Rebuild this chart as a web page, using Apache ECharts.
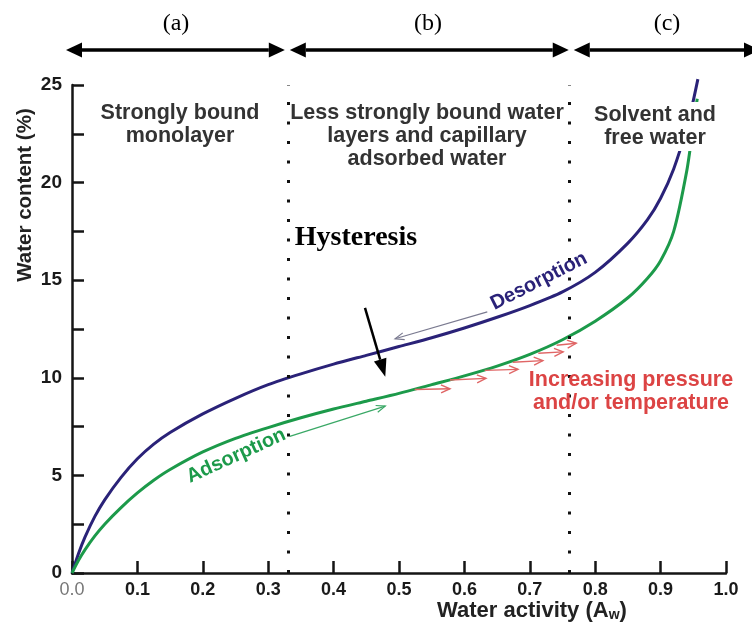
<!DOCTYPE html>
<html>
<head>
<meta charset="utf-8">
<script src="https://cdn.jsdelivr.net/npm/echarts@6/dist/echarts.min.js"></script>
<style>html,body{margin:0;padding:0;background:#fff}#c{width:752px;height:629px}</style>
</head>
<body>
<div id="c"></div>
<script>
// Water activity (x) values and water content (%) values
const desorptionAw = [0, 0.01, 0.02, 0.035, 0.05, 0.075, 0.1, 0.125, 0.15, 0.2, 0.25, 0.3, 0.35, 0.4, 0.45, 0.5, 0.55, 0.6, 0.65, 0.7, 0.75, 0.8, 0.85, 0.88, 0.9, 0.92, 0.94, 0.95, 0.957];
const desorptionWc = [0, 1.0, 1.85, 2.9, 3.75, 4.9, 5.85, 6.6, 7.2, 8.15, 8.95, 9.65, 10.2, 10.7, 11.15, 11.6, 12.05, 12.55, 13.1, 13.7, 14.4, 15.4, 16.9, 18.1, 19.2, 20.7, 22.8, 24.2, 25.3];
const adsorptionAw = [0, 0.01, 0.02, 0.035, 0.05, 0.075, 0.1, 0.125, 0.15, 0.2, 0.25, 0.3, 0.35, 0.4, 0.45, 0.5, 0.55, 0.6, 0.65, 0.7, 0.75, 0.8, 0.85, 0.88, 0.9, 0.92, 0.94, 0.95, 0.956];
const adsorptionWc = [0, 0.65, 1.2, 1.9, 2.5, 3.35, 4.1, 4.75, 5.3, 6.2, 6.9, 7.45, 7.95, 8.4, 8.8, 9.2, 9.65, 10.1, 10.6, 11.2, 11.95, 12.9, 14.1, 15.1, 16.0, 17.5, 20.6, 22.9, 24.3];
const zoneBoundaries = [0.33, 0.755];
const zoneLetters = ['(a)', '(b)', '(c)'];
const zoneTexts = ['Strongly bound\nmonolayer', 'Less strongly bound water\nlayers and capillary\nadsorbed water', 'Solvent and\nfree water'];
const yTicks = [0, 5, 10, 15, 20, 25];

const NAVY = '#2a2278', GREEN = '#1c9a4a', RED = '#dc4444';
const SANS = '"Liberation Sans", Arial, sans-serif';
const SERIF = '"Liberation Serif", "Times New Roman", serif';
const chart = echarts.init(document.getElementById('c'));

function pair(xs, ys){ return xs.map((x,i)=>[x, ys[i]]); }

chart.setOption({
  animation: false,
  backgroundColor: '#fff',
  grid: { left: 72, right: 26, top: 85, bottom: 56 },
  xAxis: {
    type: 'value', min: 0, max: 1, interval: 0.1,
    axisLine: { lineStyle: { color: '#151515', width: 2.5 } },
    axisTick: { inside: true, length: 12, lineStyle: { color: '#151515', width: 2.5 } },
    splitLine: { show: false },
    axisLabel: {
      margin: 8, fontFamily: SANS, fontSize: 18, fontWeight: 'bold', color: '#1a1a1a',
      formatter: v => Math.abs(v) < 1e-9 ? '{g|0.0}' : v.toFixed(1),
      rich: { g: { color: '#777', fontWeight: 'normal', fontSize: 18, fontFamily: SANS } }
    }
  },
  yAxis: {
    type: 'value', min: 0, max: 25, interval: 2.5,
    axisLine: { show: true, lineStyle: { color: '#151515', width: 2.5 } },
    axisTick: { show: true, inside: true, length: 12, lineStyle: { color: '#151515', width: 2.5 } },
    splitLine: { show: false },
    axisLabel: {
      margin: 10, fontFamily: SANS, fontSize: 19, fontWeight: 'bold', color: '#1a1a1a',
      formatter: v => yTicks.indexOf(Math.round(v*10)/10) >= 0 ? String(Math.round(v)) : ''
    }
  },
  series: [
    { name: 'Desorption', type: 'line', data: pair(desorptionAw, desorptionWc), smooth: 0.25, showSymbol: false, clip: false,
      lineStyle: { color: NAVY, width: 3 }, z: 3,
      markLine: { silent: true, symbol: 'none', label: { show: false },
        lineStyle: { color: '#111', type: [3, 16.5], width: 3, cap: 'butt' },
        data: zoneBoundaries.map(x => ({ xAxis: x })) } },
    { name: 'Adsorption', type: 'line', data: pair(adsorptionAw, adsorptionWc), smooth: 0.25, showSymbol: false, clip: false,
      lineStyle: { color: GREEN, width: 3 }, z: 4 }
  ]
});

const P = (x, y) => chart.convertToPixel({ gridIndex: 0 }, [x, y]);

function arrow(a, b, color, w, hl, hw, filled) {
  const dx = b[0]-a[0], dy = b[1]-a[1], L = Math.hypot(dx, dy), ux = dx/L, uy = dy/L;
  const bx = b[0]-ux*hl, by = b[1]-uy*hl;
  const p1 = [bx - uy*hw/2, by + ux*hw/2], p2 = [bx + uy*hw/2, by - ux*hw/2];
  const els = [];
  const end = filled ? [bx, by] : b;
  els.push({ type: 'line', shape: { x1: a[0], y1: a[1], x2: end[0], y2: end[1] }, style: { stroke: color, lineWidth: w } });
  if (filled) els.push({ type: 'polygon', shape: { points: [b, p1, p2] }, style: { fill: color } });
  else els.push({ type: 'polyline', shape: { points: [p1, b, p2] }, style: { stroke: color, lineWidth: w, fill: null } });
  return els;
}
function dbl(x1, x2, y) {
  const els = [];
  const hl = 16, hw = 15;
  els.push({ type: 'line', shape: { x1: x1+hl, y1: y, x2: x2-hl, y2: y }, style: { stroke: '#000', lineWidth: 3.5 } });
  els.push({ type: 'polygon', shape: { points: [[x1, y], [x1+hl, y-hw/2], [x1+hl, y+hw/2]] }, style: { fill: '#000' } });
  els.push({ type: 'polygon', shape: { points: [[x2, y], [x2-hl, y-hw/2], [x2-hl, y+hw/2]] }, style: { fill: '#000' } });
  return els;
}

const g = [];
const x0 = P(0, 0)[0], xa = P(zoneBoundaries[0], 0)[0], xb = P(zoneBoundaries[1], 0)[0];
const topY = 50;
g.push(...dbl(x0 - 6, xa - 3, topY));
g.push(...dbl(xa + 2, xb + 3, topY));
g.push(...dbl(xb + 8, 760, topY));
const letterX = [176, 428, 667];
zoneLetters.forEach((t, i) => g.push({ type: 'text', x: letterX[i], y: 24,
  style: { text: t, fill: '#000', font: '24px ' + SERIF, align: 'center', verticalAlign: 'middle' } }));
const zoneTextX = [180, 427, 655];
zoneTexts.forEach((t, i) => g.push({ type: 'text', x: zoneTextX[i], y: 102, z: 110,
  style: { text: t, fill: '#333', font: 'bold 21.5px ' + SANS, align: 'center', verticalAlign: 'top', lineHeight: 23,
    backgroundColor: i === 2 ? '#fff' : null, padding: i === 2 ? [2, 2, 1, 2] : 0 } }));

// axis names
g.push({ type: 'text', x: 25, y: 195, rotation: Math.PI/2,
  style: { text: 'Water content (%)', fill: '#222', font: 'bold 20.5px ' + SANS, align: 'center', verticalAlign: 'middle' } });
g.push({ type: 'text', x: 532, y: 611,
  style: { text: '{a|Water activity (A}{s|w}{a|)}', align: 'center', verticalAlign: 'middle',
    rich: { a: { fill: '#222', font: 'bold 22px ' + SANS },
            s: { fill: '#222', font: 'bold 14px ' + SANS, padding: [9, 0, 0, 0] } } } });

// Hysteresis
g.push({ type: 'text', x: 356, y: 238,
  style: { text: 'Hysteresis', fill: '#000', font: 'bold 28px ' + SERIF, align: 'center', verticalAlign: 'middle' } });
g.push(...arrow(P(0.448, 13.58), P(0.479, 10.05), '#000', 2.5, 18, 13, true));

// curve labels
const dc = P(0.714, 14.95);
g.push({ type: 'text', x: dc[0], y: dc[1], rotation: 0.47,
  style: { text: 'Desorption', fill: NAVY, font: 'bold 20px ' + SANS, align: 'center', verticalAlign: 'middle' } });
const ac = P(0.251, 6.0);
g.push({ type: 'text', x: ac[0], y: ac[1], rotation: 0.43,
  style: { text: 'Adsorption', fill: GREEN, font: 'bold 20px ' + SANS, align: 'center', verticalAlign: 'middle' } });
g.push(...arrow(P(0.635, 13.38), P(0.494, 12.0), '#7a7a90', 1.2, 9, 7, false));
g.push(...arrow(P(0.333, 7.0), P(0.479, 8.55), '#3aa866', 1.2, 9, 7, false));

// red arrows
const redArrows = [[[0.524, 9.4], [0.578, 9.44]], [[0.578, 9.89], [0.633, 9.97]], [[0.631, 10.38], [0.682, 10.43]],
  [[0.674, 10.80], [0.720, 10.88]], [[0.713, 11.26], [0.751, 11.33]], [[0.741, 11.67], [0.771, 11.77]]];
redArrows.forEach(r => g.push(...arrow(P(r[0][0], r[0][1]), P(r[1][0], r[1][1]), '#e06666', 1.4, 9, 8, false)));
g.push({ type: 'text', x: 631, y: 392,
  style: { text: 'Increasing pressure\nand/or temperature', fill: RED, font: 'bold 21.5px ' + SANS, align: 'center', verticalAlign: 'middle', lineHeight: 23 } });

chart.setOption({ graphic: g.map(e => Object.assign({ silent: true, z: 100 }, e)) });
</script>
</body>
</html>
